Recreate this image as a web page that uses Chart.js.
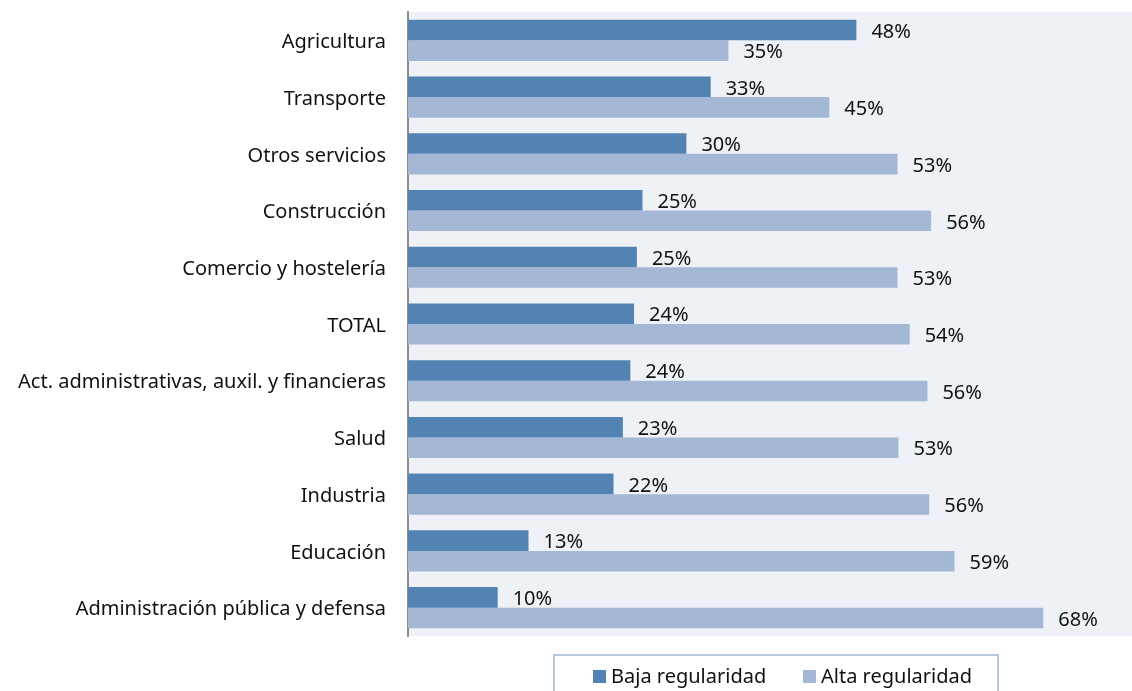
<!DOCTYPE html>
<html>
<head>
<meta charset="utf-8">
<script src="https://cdn.jsdelivr.net/npm/chart.js@4/dist/chart.umd.min.js"></script>
<style>
html,body{margin:0;padding:0;background:#fff;}
#wrap{width:1132px;height:691px;position:relative;}
</style>
</head>
<body>
<div id="wrap"><canvas id="c" width="1132" height="691"></canvas></div>
<script>
const categories = ["Agricultura","Transporte","Otros servicios","Construcción","Comercio y hostelería","TOTAL","Act. administrativas, auxil. y financieras","Salud","Industria","Educación","Administración pública y defensa"];
const seriesNames = ["Baja regularidad","Alta regularidad"];
const bajaValues = [48.0,32.4,29.8,25.1,24.5,24.2,23.8,23.0,22.0,12.9,9.6];
const altaValues = [34.3,45.1,52.4,56.0,52.4,53.7,55.6,52.5,55.8,58.5,68.0];
const bajaLabels = ["48%","33%","30%","25%","25%","24%","24%","23%","22%","13%","10%"];
const altaLabels = ["35%","45%","53%","56%","53%","54%","56%","53%","56%","59%","68%"];

const FONT = "'Noto Sans', sans-serif";
const colors = ["#5383b3","#a4b7d5"];

const bgPlugin = {
  id:'bg',
  beforeDraw(chart){
    const {ctx, chartArea:a} = chart;
    ctx.save();
    ctx.fillStyle = '#eef2f6';
    ctx.fillRect(a.left, a.top, a.right-a.left, a.bottom-a.top);
    ctx.restore();
  }
};

const labelPlugin = {
  id:'vlabels',
  afterDatasetsDraw(chart){
    const ctx = chart.ctx;
    const texts = [bajaLabels, altaLabels];
    ctx.save();
    ctx.font = "20px " + FONT;
    ctx.fillStyle = '#111111';
    ctx.textAlign = 'left';
    ctx.textBaseline = 'middle';
    chart.data.datasets.forEach((ds, di) => {
      const meta = chart.getDatasetMeta(di);
      meta.data.forEach((el, i) => {
        ctx.fillText(texts[di][i], el.x + 15, el.y + 2);
      });
    });
    ctx.restore();
  }
};

const legendPlugin = {
  id:'customLegend',
  afterDraw(chart){
    const ctx = chart.ctx;
    const a = chart.chartArea;
    const boxL = a.left + 146, boxT = a.bottom + 19, boxW = 444, boxH = 60;
    ctx.save();
    ctx.strokeStyle = '#b7c8dc';
    ctx.lineWidth = 2;
    ctx.strokeRect(boxL, boxT, boxW, boxH);
    ctx.font = "20px " + FONT;
    ctx.textBaseline = 'middle';
    const cy = boxT + 22;
    const xs = [boxL + 39, boxL + 249];
    chart.data.datasets.forEach((ds, i) => {
      ctx.fillStyle = ds.backgroundColor;
      ctx.fillRect(xs[i], cy - 7, 13, 13);
      ctx.fillStyle = '#111111';
      ctx.fillText(ds.label, xs[i] + 18, cy);
    });
    ctx.restore();
  }
};

new Chart(document.getElementById('c'), {
  type:'bar',
  data:{
    labels: categories,
    datasets:[
      {label: seriesNames[0], data: bajaValues, backgroundColor: colors[0]},
      {label: seriesNames[1], data: altaValues, backgroundColor: colors[1]}
    ]
  },
  options:{
    indexAxis:'y',
    responsive:false,
    animation:false,
    layout:{padding:{top:12,bottom:55,left:0,right:0}},
    datasets:{bar:{categoryPercentage:0.725, barPercentage:1.0}},
    plugins:{legend:{display:false}, tooltip:{enabled:false}},
    scales:{
      x:{display:false, min:0, max:77.5},
      y:{
        grid:{display:false, drawTicks:false},
        border:{display:true, color:'#8e8e8e', width:2},
        ticks:{color:'#111111', font:{family:FONT, size:20}, padding:22, labelOffset:2},
        afterFit(scale){ scale.width = 408; scale.paddingTop = 0; scale.paddingBottom = 0; }
      }
    }
  },
  plugins:[bgPlugin, labelPlugin, legendPlugin]
});
</script>
</body>
</html>
